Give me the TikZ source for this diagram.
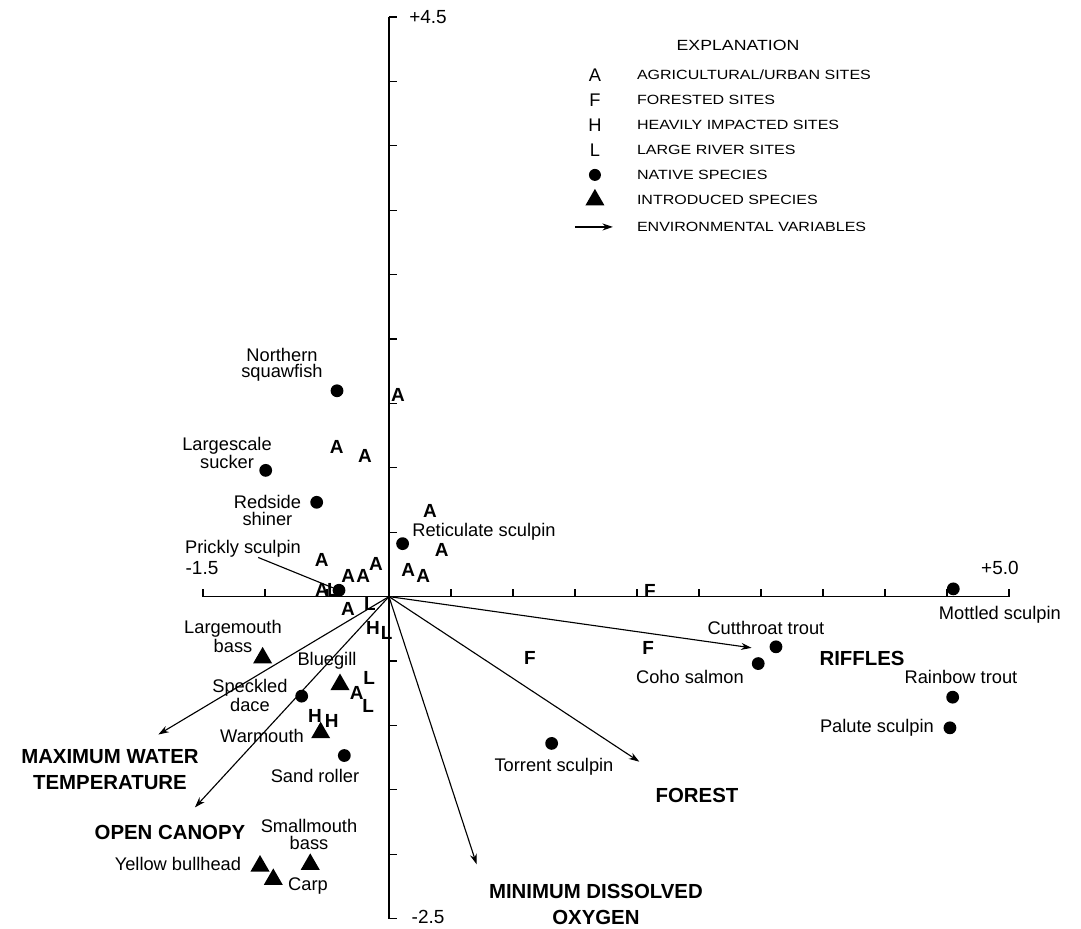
\documentclass[tikz,border=0pt]{standalone}
\usepackage{fontspec}
\setmainfont{Liberation Sans}
\newfontfamily\legendfont{Liberation Sans}[FakeStretch=1.2]
\usetikzlibrary{shapes.geometric,arrows.meta}

\begin{document}
\begin{tikzpicture}[x=3.1cm,y=3.22cm,
        native/.style={circle,fill=black,inner sep=0pt,minimum size=0.32cm},
        introduced/.style={regular polygon,regular polygon sides=3,fill=black,inner sep=0pt,minimum size=0.55cm},
        site/.style={font=\fontsize{13.5}{13}\selectfont\bfseries,inner sep=0pt},
        species/.style={font=\fontsize{13}{12}\selectfont,align=center,inner sep=0pt},
        envlabel/.style={font=\fontsize{14.5}{19}\selectfont\bfseries,align=center,inner sep=0pt},
        ticklabel/.style={font=\fontsize{13.5}{14}\selectfont,inner sep=0pt},
        envarrow/.style={-{Stealth[length=7.5pt,width=5pt]},line width=0.8pt},
        legendtext/.style={font=\legendfont\fontsize{9.5}{10}\selectfont,anchor=west,inner sep=0pt}]
        \useasboundingbox (-3.137,-2.576) rectangle (5.581,4.632);

        \draw[line width=1.1pt] (-1.5,0) -- (5,0);
        \draw[line width=1.1pt] (0,-2.5) -- (0,4.5);
        \foreach \x in {-1.5,-1,...,5} \draw[line width=0.8pt] (\x,0) -- (\x,0.062);
        \foreach \y in {-2.5,-2,...,4.5} \draw[line width=0.8pt] (0,\y) -- (0.065,\y);
        \node[ticklabel] (ytop) at (0.315,4.5) {+4.5};
        \node[ticklabel] (ybot) at (0.315,-2.49) {-2.5};
        \node[ticklabel] (xleft) at (-1.508,0.225) {-1.5};
        \node[ticklabel] (xright) at (4.927,0.225) {+5.0};

        \coordinate (o) at (0,0);
        \coordinate (maxtemp) at (-1.860,-1.071);
        \coordinate (canopy) at (-1.565,-1.637);
        \coordinate (oxygen) at (0.707,-2.079);
        \coordinate (forest) at (2.019,-1.282);
        \coordinate (riffles) at (2.925,-0.398);
        \draw[envarrow] (o) -- (maxtemp);
        \draw[envarrow] (o) -- (canopy);
        \draw[envarrow] (o) -- (oxygen);
        \draw[envarrow] (o) -- (forest);
        \draw[envarrow] (o) -- (riffles);
        \node[envlabel] (maxtemplbl) at (-2.25,-1.343) {MAXIMUM WATER\\TEMPERATURE};
        \node[envlabel] (canopylbl) at (-1.766,-1.831) {OPEN CANOPY};
        \node[envlabel] (oxygenlbl) at (1.669,-2.39) {MINIMUM DISSOLVED\\OXYGEN};
        \node[envlabel] (forestlbl) at (2.484,-1.544) {FOREST};
        \node[envlabel] (riffleslbl) at (3.815,-0.481) {RIFFLES};

        \foreach \x/\y [count=\i] in {0.073/1.567,-0.422/1.161,-0.194/1.088,0.331/0.662,0.425/0.365,-0.543/0.282,-0.328/0.163,-0.207/0.157,-0.105/0.256,0.156/0.209,0.277/0.163,-0.540/0.054,-0.331/-0.093,-0.260/-0.747}
            \node[site] (a\i) at (\x,\y) {A};
        \foreach \x/\y [count=\i] in {2.105/0.041,2.091/-0.398,1.137/-0.476}
            \node[site] (f\i) at (\x,\y) {F};
        \foreach \x/\y [count=\i] in {-0.129/-0.240,-0.597/-0.929,-0.462/-0.967}
            \node[site] (h\i) at (\x,\y) {H};
        \foreach \x/\y [count=\i] in {-0.452/0.054,-0.153/-0.054,-0.019/-0.279,-0.159/-0.631,-0.167/-0.851}
            \node[site] (l\i) at (\x,\y) {L};

        \node[native] (squawfish) at (-0.419,1.598) {};
        \node[species] (squawfishlbl) at (-0.863,1.80) {Northern\\squawfish};
        \node[native] (sucker) at (-0.994,0.980) {};
        \node[species] (suckerlbl) at (-1.306,1.117) {Largescale\\sucker};
        \node[native] (shiner) at (-0.583,0.732) {};
        \node[species] (shinerlbl) at (-0.980,0.667) {Redside\\shiner};
        \node[native] (reticulate) at (0.110,0.411) {};
        \node[species] (reticulatelbl) at (0.766,0.504) {Reticulate sculpin};
        \node[native] (prickly) at (-0.403,0.049) {};
        \node[species] (pricklylbl) at (-1.177,0.372) {Prickly sculpin};
        \draw[line width=0.8pt] ([xshift=0.38cm]pricklylbl.south) -- (prickly);
        \node[native] (dace) at (-0.704,-0.773) {};
        \node[species] (dacelbl) at (-1.121,-0.768) {Speckled\\dace};
        \node[native] (sandroller) at (-0.360,-1.234) {};
        \node[species] (sandrollerlbl) at (-0.597,-1.389) {Sand roller};
        \node[native] (torrent) at (1.312,-1.140) {};
        \node[species] (torrentlbl) at (1.331,-1.319) {Torrent sculpin};
        \node[native] (cutthroat) at (3.121,-0.390) {};
        \node[species] (cutthroatlbl) at (3.040,-0.240) {Cutthroat trout};
        \node[native] (coho) at (2.978,-0.520) {};
        \node[species] (coholbl) at (2.427,-0.621) {Coho salmon};
        \node[native] (mottled) at (4.551,0.060) {};
        \node[species] (mottledlbl) at (4.927,-0.140) {Mottled sculpin};
        \node[native] (rainbow) at (4.546,-0.781) {};
        \node[species] (rainbowlbl) at (4.613,-0.621) {Rainbow trout};
        \node[native] (palute) at (4.524,-1.019) {};
        \node[species] (palutelbl) at (3.935,-1.016) {Palute sculpin};

        \node[introduced] (largemouth) at (-1.019,-0.476) {};
        \node[species] (largemouthlbl) at (-1.258,-0.310) {Largemouth\\bass};
        \node[introduced] (bluegill) at (-0.395,-0.683) {};
        \node[species] (bluegilllbl) at (-0.5,-0.497) {Bluegill};
        \node[introduced] (warmouth) at (-0.551,-1.057) {};
        \node[species] (warmouthlbl) at (-1.024,-1.086) {Warmouth};
        \node[introduced] (smallmouth) at (-0.635,-2.079) {};
        \node[species] (smallmouthlbl) at (-0.645,-1.846) {Smallmouth\\bass};
        \node[introduced] (bullhead) at (-1.040,-2.092) {};
        \node[species] (bullheadlbl) at (-1.702,-2.079) {Yellow bullhead};
        \node[introduced] (carp) at (-0.933,-2.196) {};
        \node[species] (carplbl) at (-0.653,-2.250) {Carp};

        \node[font=\legendfont\fontsize{10.5}{11}\selectfont,inner sep=0pt] (explanation) at (2.815,4.282) {EXPLANATION};
        \node[site,font=\fontsize{13}{13}\selectfont] (legA) at (1.661,4.050) {A};
        \node[site,font=\fontsize{13}{13}\selectfont] (legF) at (1.661,3.856) {F};
        \node[site,font=\fontsize{13}{13}\selectfont] (legH) at (1.661,3.662) {H};
        \node[site,font=\fontsize{13}{13}\selectfont] (legL) at (1.661,3.468) {L};
        \node[native,minimum size=0.3cm] (legnative) at (1.661,3.274) {};
        \node[introduced] (legintro) at (1.661,3.080) {};
        \coordinate (legarrowa) at (1.500,2.870);
        \coordinate (legarrowb) at (1.806,2.870);
        \draw[envarrow] (legarrowa) -- (legarrowb);
        \node[legendtext] (legAtxt) at (1.998,4.050) {AGRICULTURAL/URBAN SITES};
        \node[legendtext] (legFtxt) at (1.998,3.856) {FORESTED SITES};
        \node[legendtext] (legHtxt) at (1.998,3.662) {HEAVILY IMPACTED SITES};
        \node[legendtext] (legLtxt) at (1.998,3.468) {LARGE RIVER SITES};
        \node[legendtext] (legnativetxt) at (1.998,3.274) {NATIVE SPECIES};
        \node[legendtext] (legintrotxt) at (1.998,3.080) {INTRODUCED SPECIES};
        \node[legendtext] (legarrowtxt) at (1.998,2.870) {ENVIRONMENTAL VARIABLES};
    \end{tikzpicture}
\end{document}
